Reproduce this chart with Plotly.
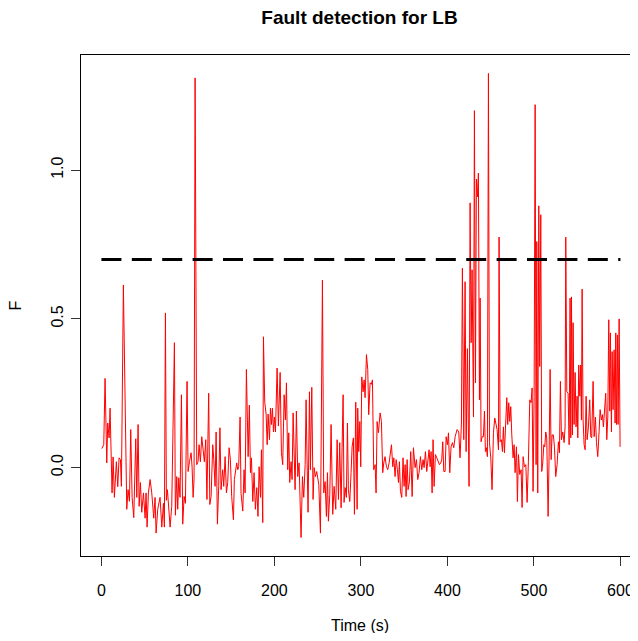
import plotly.graph_objects as go

# -------------------------
# Data
# -------------------------
time_s = [
    0.4, 2.7, 4.2, 6.2, 7.3, 8.9, 10.0, 12.3, 13.5, 15.0, 17.3, 18.9, 20.4, 22.0, 23.1,
    25.4, 29.3, 30.8, 32.4, 33.9, 35.5, 37.4, 39.7, 40.9, 42.4, 43.6, 45.1, 46.6, 48.6,
    50.5, 51.6, 52.8, 54.3, 56.3, 58.2, 60.5, 62.0, 63.2, 65.1, 67.8, 69.8, 71.7, 72.8,
    74.0, 75.1, 76.3, 79.4, 81.3, 84.4, 85.5, 87.1, 88.2, 89.4, 90.9, 92.5, 94.0, 95.6,
    97.1, 99.0,
    100.2, 101.8, 103.7, 104.8, 106.0, 107.1, 108.3, 110.2, 111.7, 112.9, 114.4, 116.0,
    117.5, 119.0, 120.6, 122.0, 124.0, 125.3, 126.8, 128.7, 129.9, 131.4, 132.6, 134.1,
    135.6, 137.0, 138.3, 140.2, 141.4, 143.0, 144.5, 146.0, 147.6, 149.1, 150.6, 152.6,
    153.7, 156.4, 157.6, 158.7, 160.3, 161.4, 163.4, 164.9, 166.1, 167.6, 169.6, 171.0,
    172.3, 173.4, 175.0, 176.5, 178.0, 179.6, 181.0, 182.3, 183.9, 185.0, 186.5, 187.3,
    188.8, 190.4, 191.6, 192.7, 194.3, 195.4, 196.6, 197.7, 198.9, 200.0, 201.2, 203.1,
    204.6, 206.6, 208.1, 209.6, 211.2, 212.7, 213.9, 215.4, 216.6, 217.7, 219.3, 220.4,
    221.6, 223.9, 225.4, 227.0, 228.5, 229.7, 230.8, 232.4, 233.9, 235.5, 236.6, 237.8,
    238.9, 240.5, 241.6, 243.2, 244.7, 245.9, 247.4, 248.9, 251.3, 253.2, 255.5, 257.0,
    258.6, 260.1, 261.3, 262.4, 264.0, 265.5, 267.4, 269.0, 270.9, 272.5, 274.0, 275.5,
    277.1, 278.2, 279.4, 280.5, 281.7, 283.2, 284.4, 285.5, 287.1, 288.6, 289.8, 291.3,
    292.5, 294.0, 295.6, 296.3, 297.5, 298.7, 299.8, 301.0, 302.5, 303.7, 304.8, 306.4,
    307.9, 309.0,
    310.6, 312.1, 313.3, 314.8, 316.4, 317.5, 318.7, 320.2, 322.2, 323.7, 325.2, 326.4,
    327.9, 329.5, 331.0, 332.6, 334.1, 335.3, 336.8, 338.0, 339.5, 340.7, 342.2, 343.4,
    344.5, 345.7, 347.2, 348.7, 349.9, 351.1, 352.2, 353.4, 354.5, 356.1, 357.6, 359.2,
    360.7, 362.6, 364.2, 365.7, 367.2, 368.8, 370.3, 371.9, 373.0, 374.6, 376.1, 377.3,
    378.8, 380.0, 381.1, 382.3, 383.4, 384.6, 386.1, 387.7, 389.2, 390.8, 392.3, 393.4,
    394.6, 395.8, 397.3, 398.5, 400.0, 401.2, 402.7, 404.2, 405.8, 407.3, 408.9,
    411.2, 413.1, 414.6, 416.2, 417.3, 418.9, 420.4, 421.6, 423.1, 425.0, 426.2, 427.4,
    428.5, 430.1, 431.2, 432.4, 433.5, 434.7, 435.8, 437.0, 437.8, 438.9, 440.1, 441.6,
    442.8, 443.9, 445.1, 446.2, 447.4, 448.6, 450.1, 451.6, 453.2, 454.7, 456.3, 457.4,
    459.0, 459.7, 460.9, 462.4, 463.6, 464.7, 465.9, 467.1, 468.6, 469.7, 470.9, 472.1,
    473.2, 474.4, 475.9, 477.1, 478.2, 479.8, 480.9, 482.1, 483.6, 485.2, 486.3, 487.5,
    489.0, 490.6, 492.1, 493.6, 495.2, 496.7, 497.9, 499.0, 500.2, 501.4, 502.5, 503.3,
    504.4, 505.6, 506.7, 507.9, 509.0,
    510.2, 511.4, 512.5, 513.7, 514.8, 516.4, 517.5, 518.7, 519.9, 521.0, 522.5, 523.7,
    525.2, 526.8, 528.3, 529.5, 530.6, 531.8, 533.3, 534.9, 536.0, 536.8, 538.0, 539.5,
    540.7, 541.8, 542.6, 543.4, 544.5, 545.3, 546.4, 547.6, 548.7, 549.9, 550.7, 551.8,
    553.0, 554.1, 554.9, 555.7, 556.8, 558.0, 559.2, 560.3, 561.5, 563.0, 564.5, 565.7,
    566.8, 568.4, 569.6, 571.1, 572.3, 573.8, 575.3, 576.5, 578.0, 579.2, 580.3, 581.5,
    583.0, 584.2, 585.4, 586.5, 587.7, 588.4, 589.6, 590.4, 591.5, 592.7, 593.8, 594.6,
    595.4, 596.5, 597.3, 598.5, 599.6,
]

f_value = [
    0.064, 0.077, 0.30, 0.016, 0.15, 0.10, 0.20, -0.085, 0.036, -0.10, 0.02, -0.064, 0.033, 0.027, -0.063,
    0.614, -0.14, -0.074, -0.113, 0.128, -0.10, -0.168, 0.097, -0.10, 0.145, -0.13, -0.05, -0.15, -0.085,
    -0.17, -0.085, -0.20, -0.085, -0.04, -0.085, -0.17, -0.10, -0.22, -0.14, -0.10, -0.20, -0.12, -0.20,
    0.52, -0.11, -0.074, -0.20, -0.13, 0.42, -0.16, -0.03, -0.14, -0.034, -0.10, 0.245, -0.19, -0.097,
    -0.12, 0.29,
    -0.013, 0.02, 0.05, 0.003, -0.10, -0.04, 1.31, 0.01, 0.02, 0.077, 0.02, 0.104,
    0.07, 0.02, 0.094, -0.107, 0.25, -0.124, -0.097, 0.077, 0.027, -0.063, 0.12, -0.19,
    -0.063, 0.134, -0.074, -0.007, -0.063, 0.037, -0.085, -0.05, 0.067, 0.027, -0.097, -0.175,
    -0.04, 0.016, -0.007, 0.003, 0.17, -0.085, -0.146, -0.007, -0.085, 0.33, 0.037, 0.21,
    -0.017, 0.033, -0.114, -0.017, -0.14, -0.067, -0.164, 0.003, -0.10, 0.06, -0.185, 0.44,
    0.22, 0.18, 0.077, 0.18, 0.094, 0.20, 0.145, 0.20, 0.12, 0.17, 0.12, 0.335,
    0.14, 0.32, 0.05, 0.01, 0.245, 0.16, 0.285, -0.007, 0.117, -0.05, 0.02, -0.04,
    0.184, -0.074, 0.19, -0.03, 0.016, -0.08, -0.235, -0.03, -0.10, 0.01, 0.228, 0.016,
    -0.15, 0.255, -0.007, 0.27, -0.107, 0.0, -0.03, -0.013, -0.057, -0.22, 0.63, -0.085,
    -0.047, -0.164, -0.017, -0.18, -0.09, 0.145, -0.157, -0.063, -0.14, 0.094, -0.107, 0.084,
    -0.135, 0.067, 0.245, -0.117, -0.067, -0.10, 0.15, -0.074, -0.114, -0.017, 0.07, 0.10,
    -0.157, 0.22, -0.14, 0.20, 0.054, 0.155, 0.003, 0.305, 0.255, 0.295, 0.235, 0.38,
    0.33, 0.178,
    0.285, 0.28, 0.295, -0.007, 0.01, -0.085, 0.155, 0.117, 0.184, 0.155, -0.017, 0.016,
    0.037, 0.003, -0.007, 0.016, 0.044, 0.077, 0.003, 0.033, -0.03, 0.027, -0.007, -0.05,
    0.02, -0.08, -0.10, 0.033, -0.063, 0.01, -0.097, 0.027, -0.074, -0.047, 0.054, -0.097,
    0.067, 0.0, 0.027, -0.04, -0.017, 0.037, -0.007, 0.027, 0.0, 0.054, -0.013, 0.016,
    0.06, 0.003, 0.054, -0.085, 0.094, -0.063, 0.044, 0.033, 0.02, 0.01, 0.016, 0.027,
    0.087, -0.013, -0.013, 0.104, 0.077, 0.117, -0.017, 0.07, 0.084, 0.067, 0.104,
    0.128, 0.12, 0.033, 0.15, 0.67, 0.094, 0.625, 0.054, 0.40, -0.063, 0.89, 0.42,
    0.665, 0.17, 1.20, 0.285, 0.97, 0.91, 0.99, 0.228, 0.57, 0.087, 0.104, 0.104,
    0.19, 0.054, 0.067, 0.037, 1.325, 0.084, 0.033, -0.074, 0.117, 0.167, 0.134, 0.128,
    0.06, 0.775, 0.087, 0.094, 0.054, 0.137, 0.05, 0.16, 0.235, 0.145, 0.218, 0.155,
    0.205, 0.11, 0.033, 0.077, -0.017, 0.07, -0.114, 0.044, -0.023, -0.007, -0.134, 0.037,
    0.003, 0.01, -0.117, 0.02, 0.228, 0.218, 0.268, -0.08, 0.24, 1.22, 0.01, 0.76,
    -0.085, 0.88, 0.34, 0.85, -0.013,
    0.016, 0.077, 0.07, 0.12, 0.10, -0.164, 0.033, 0.33, 0.027, 0.11, 0.11, 0.07,
    -0.03, 0.01, 0.087, 0.05, 0.29, 0.094, 0.12, 0.084, 0.137, 0.775, 0.255, 0.25,
    0.077, 0.57, 0.10, 0.574, 0.11, 0.487, 0.145, 0.32, 0.137, 0.24, 0.10, 0.345,
    0.24, 0.345, 0.16, 0.60, 0.16, 0.077, 0.06, 0.24, 0.094, 0.137, 0.228, 0.104,
    0.10, 0.29, 0.104, 0.17, 0.084, 0.037, 0.12, 0.195, 0.16, 0.178, 0.137, 0.19,
    0.25, 0.094, 0.17, 0.497, 0.19, 0.453, 0.12, 0.39, 0.195, 0.396, 0.15, 0.453,
    0.145, 0.446, 0.145, 0.50, 0.07,
]

threshold = 0.7
threshold_span = [0, 600]

x_ticks = [0, 100, 200, 300, 400, 500, 600]
y_ticks = [0.0, 0.5, 1.0]
y_tick_labels = ["0.0", "0.5", "1.0"]

FONT = "Liberation Sans, Arial, Helvetica, sans-serif"

fig = go.Figure()

# F statistic
fig.add_trace(go.Scatter(
    x=time_s, y=f_value,
    mode="lines",
    line=dict(color="#ff0000", width=1),
    showlegend=False,
))

# threshold
fig.add_trace(go.Scatter(
    x=threshold_span, y=[threshold, threshold],
    mode="lines",
    line=dict(color="black", width=3, dash="20px,10.4px"),
    showlegend=False,
))

# page body has an 8px margin, so the figure is sized/offset to compensate
fig.update_layout(
    width=630,
    height=625,
    paper_bgcolor="white",
    plot_bgcolor="white",
    margin=dict(l=73, r=0, t=47, b=77),
    font=dict(family=FONT, size=16, color="black"),
    title=dict(
        text="<b>Fault detection for LB</b>",
        x=0.5, xref="paper", xanchor="center",
        y=1 - 9 / 625, yref="container", yanchor="middle",
        font=dict(family=FONT, size=19, color="black"),
    ),
    xaxis=dict(
        range=[-23.6, 620.3],
        tickvals=x_ticks,
        ticks="outside", ticklen=9, tickcolor="#333333",
        showline=True, linecolor="black", linewidth=1, mirror=True,
        showgrid=False, zeroline=False,
        ticklabelstandoff=11,
        tickfont=dict(size=16),
    ),
    yaxis=dict(
        range=[-0.297, 1.387],
        tickvals=y_ticks, ticktext=y_tick_labels,
        tickangle=-90,
        ticks="outside", ticklen=9, tickcolor="#333333",
        showline=True, linecolor="black", linewidth=1,
        showgrid=False, zeroline=False,
        ticklabelstandoff=2,
        tickfont=dict(size=16),
    ),
    annotations=[
        dict(text="Time (s)", xref="paper", yref="paper", x=0.5, y=0,
             yshift=-69, xanchor="center", yanchor="middle", showarrow=False,
             font=dict(size=16)),
        dict(text="F", xref="paper", yref="paper", x=0, y=0.5,
             xshift=-66, xanchor="center", yanchor="middle", showarrow=False,
             textangle=-90, font=dict(size=16)),
    ],
)

fig.write_html("out.html")
